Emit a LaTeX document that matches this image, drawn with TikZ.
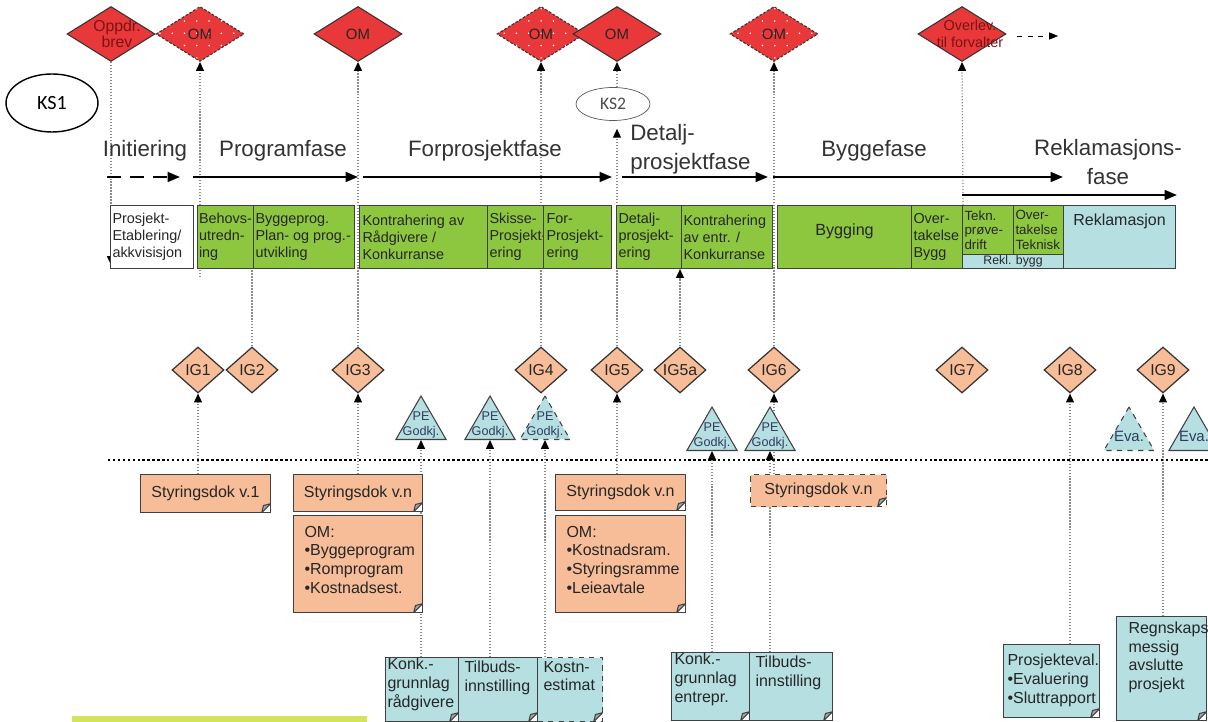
\documentclass[tikz,border=0pt]{standalone}
\usepackage{fontspec}
\setmainfont{Liberation Sans}
\newfontfamily\ksfont{Carlito}
\usetikzlibrary{shapes.geometric,arrows.meta,positioning,backgrounds,patterns}
\definecolor{pmRed}{HTML}{E8383A}
\definecolor{pmDark}{HTML}{7A1414}
\definecolor{pmSalmon}{HTML}{F6BD98}
\definecolor{pmGreen}{HTML}{8DC63F}
\definecolor{pmBlue}{HTML}{B6DFE2}
\definecolor{pmLime}{HTML}{D3E35A}
\definecolor{pmInk}{HTML}{2F3D5C}
\newlength\pxu
\setlength\pxu{0.02cm}
\newcommand{\boxfont}{\fontsize{8.2}{9.6}\selectfont}
\newcommand{\tinyboxfont}{\fontsize{7.6}{8.4}\selectfont}
\newcommand{\docfont}{\fontsize{9.1}{10.6}\selectfont}
\newcommand{\phasefont}{\fontsize{12.7}{16.4}\selectfont}
\newcommand{\bx}[5][t]{\parbox[c][#3\pxu][#1]{#2\pxu}{\leftskip=#4\pxu\rightskip=0pt plus 1fil\parindent=0pt\hyphenpenalty=10000\exhyphenpenalty=10000\hbadness=10000\hfuzz=50pt\relax #5}}
\pgfdeclarepatternformonly{pmdots}{\pgfqpoint{-1pt}{-1pt}}{\pgfqpoint{1pt}{1pt}}{\pgfqpoint{7pt}{7pt}}{\pgfpathcircle{\pgfpointorigin}{0.5pt}\pgfusepath{fill}}
\tikzset{
  ms/.style={shape=diamond, draw=black!80, fill=pmRed, minimum width=1.76cm, minimum height=1.1cm, inner sep=0pt, line width=0.6pt, font=\fontsize{8.5}{9}\selectfont, text=black!85},
  msD/.style={ms, dash pattern=on 1.5pt off 1pt, postaction={pattern=pmdots, pattern color=white}},
  msT/.style={align=center, font=\fontsize{9}{9.5}\selectfont, text=pmDark, inner sep=0pt},
  ig/.style={shape=diamond, draw=black!80, fill=pmSalmon, minimum width=1.04cm, minimum height=0.92cm, inner sep=0pt, line width=0.7pt, font=\fontsize{9}{10}\selectfont, text=black!85},
  pe/.style={regular polygon, regular polygon sides=3, minimum size=1.16cm, inner sep=0pt, draw=black!75, fill=pmBlue, line width=0.6pt},
  peD/.style={pe, dashed},
  peT/.style={align=center, font=\fontsize{7.2}{8.5}\selectfont, text=pmInk, inner sep=0pt},
  ks/.style={ellipse, draw=black, line width=0.8pt, minimum width=1.84cm, minimum height=1.16cm, inner sep=0pt, font=\ksfont\fontsize{11.5}{12}\selectfont},
  ksS/.style={ellipse, draw=black!65, fill=white, minimum width=1.48cm, minimum height=0.66cm, inner sep=0pt, font=\ksfont\fontsize{10}{11}\selectfont, text=black!70},
  phase/.style={font=\phasefont, text=black!80, inner sep=0pt},
  arr/.style={-{Triangle[length=7pt,width=5.5pt]}, line width=1.3pt, draw=black},
  arrD/.style={arr, dash pattern=on 8pt off 5pt},
  arrT/.style={-{Triangle[length=5pt,width=4pt]}, thin, dashed, draw=black},
  sep/.style={draw=black, line width=1.4pt, dash pattern=on 1.4pt off 1.4pt},
  guide/.style={draw=black!45, densely dotted, line width=0.7pt},
  guideA/.style={guide, -{Triangle[length=5pt,width=4.5pt,color=black]}},
  box/.style={draw=black!75, line width=0.6pt, inner sep=0pt, anchor=north west, font=\boxfont, text=black!85},
  boxW/.style={box, fill=white},
  boxG/.style={box, fill=pmGreen},
  boxB/.style={box, fill=pmBlue},
  doc/.style={box, fill=pmSalmon, font=\docfont, path picture={
    \fill[white] ([xshift=-5pt]path picture bounding box.south east) -- (path picture bounding box.south east) -- ([yshift=5pt]path picture bounding box.south east) -- cycle;
    \filldraw[solid, draw=black!75, fill=black!35] ([xshift=-5pt]path picture bounding box.south east) -- ([yshift=5pt]path picture bounding box.south east) -- ([xshift=-4pt,yshift=4pt]path picture bounding box.south east) -- cycle;}},
  docB/.style={doc, fill=pmBlue},
  docD/.style={doc, dashed},
  docBD/.style={docB, dashed},
}
\begin{document}
\begin{tikzpicture}[x=0.02cm, y=-0.02cm]
\useasboundingbox (0,0) rectangle (1208,722);

\node[ms, label={[msT, xshift=6\pxu]center:{Oppdr.\\brev}}] (opp) at (111,34) {};
\node[msD] (om1) at (200,34) {OM};
\node[ms] (om2) at (358,34) {OM};
\node[msD] (om3) at (541,34) {OM};
\node[ms] (om4) at (617,34) {OM};
\node[msD] (om5) at (774,34) {OM};
\node[ms, label={[msT, font=\fontsize{8.2}{9.8}\selectfont, xshift=8\pxu]center:{Overlev.\\til forvalter}}] (ovl) at (962,34) {};
\coordinate (ovl0) at (1017,36);
\coordinate (ovl1) at (1058,36);
\draw[arrT] (ovl0) -- (ovl1);

\node[ks] (ks1) at (52,103) {KS1};
\node[ksS] (ks2) at (613,104) {KS2};

\node[phase, anchor=base] (ph1) at (145,157) {Initiering};
\node[phase, anchor=base] (ph2) at (283,157) {Programfase};
\node[phase, anchor=base] (ph3) at (485,157) {Forprosjektfase};
\node[phase, anchor=north west, align=left] (ph4) at (630,124) {Detalj-\\prosjektfase};
\node[phase, anchor=base] (ph5) at (874,157) {Byggefase};
\node[phase, anchor=north, align=center] (ph6) at (1108,139) {Reklamasjons-\\fase};

\coordinate (a0) at (107,177);
\coordinate (a1) at (180,177);
\coordinate (a2) at (193,177);
\coordinate (a3) at (358,177);
\coordinate (a4) at (363,177);
\coordinate (a5) at (612,177);
\coordinate (a6) at (622,177);
\coordinate (a7) at (768,177);
\coordinate (a8) at (773,177);
\coordinate (a9) at (1063,177);
\coordinate (a10) at (962,195);
\coordinate (a11) at (1177,195);
\draw[arrD] (a0) -- (a1);
\draw[arr] (a2) -- (a3);
\draw[arr] (a4) -- (a5);
\draw[arr] (a6) -- (a7);
\draw[arr] (a8) -- (a9);
\draw[arr] (a10) -- (a11);

\node[boxW] (b0) at (110,205) {\bx[c]{83}{63}{2}{Prosjekt-\\Etablering/\\akkvisisjon}};
\node[boxG] (b1) at (197,205) {\bx[c]{56}{63}{1.5}{Behovs-\\utredn-\\ing}};
\node[boxG] (b2) at (253,205) {\bx[c]{101}{63}{2}{Byggeprog.\\Plan- og prog.-\\utvikling}};
\node[boxG] (b3) at (359,205) {\bx[c]{128}{63}{3}{Kontrahering av\\Rådgivere /\\Konkurranse}};
\node[boxG] (b4) at (487,205) {\bx[c]{56}{63}{2}{Skisse-\\Prosjekt-\\ering}};
\node[boxG] (b5) at (543,205) {\bx[c]{68}{63}{3}{For-\\Prosjekt-\\ering}};
\node[boxG] (b6) at (616,205) {\bx[c]{65}{63}{2}{Detalj-\\prosjekt-\\ering}};
\node[boxG] (b7) at (681,205) {\bx[c]{91}{63}{2}{Kontrahering\\av entr. /\\Konkurranse}};
\node[boxG] (b9) at (777,205) {\bx[c]{134}{63}{0}{\fontsize{9.2}{11}\selectfont\centering Bygging\par\vspace{6pt}}};
\node[boxG] (b10) at (911,205) {\bx[c]{51}{63}{2}{Over-\\takelse\\Bygg}};
\node[boxG, font=\tinyboxfont] (b11) at (962,205) {\bx[c]{51}{49}{2}{Tekn.\\prøve-\\drift}};
\node[boxG, font=\tinyboxfont] (b12) at (1013,205) {\bx[c]{50}{49}{2}{Over-\\takelse\\Teknisk}};
\node[boxB, font=\fontsize{7}{8}\selectfont] (b13) at (962,254) {\bx[c]{101}{14}{0}{\centering Rekl. bygg}};
\node[boxB] (b14) at (1063,205) {\bx{112}{63}{0}{\fontsize{9.1}{11}\selectfont\centering\vspace*{4.5pt}Reklamasjon}};

\node[ig] (ig1) at (198,370) {IG1};
\node[ig] (ig2) at (252,370) {IG2};
\node[ig] (ig3) at (358,370) {IG3};
\node[ig] (ig4) at (541,370) {IG4};
\node[ig] (ig5) at (617,370) {IG5};
\node[ig] (ig5a) at (680,370) {IG5a};
\node[ig] (ig6) at (774,370) {IG6};
\node[ig] (ig7) at (962,370) {IG7};
\node[ig] (ig8) at (1070,370) {IG8};
\node[ig] (ig9) at (1163,370) {IG9};

\node[pe, label={[peT]center:{PE\\Godkj.}}] (pe1) at (421,425) {};
\node[pe, label={[peT]center:{PE\\Godkj.}}] (pe2) at (490,425) {};
\node[peD, label={[peT]center:{PE\\Godkj.}}] (pe3) at (545,425) {};
\node[pe, label={[peT]center:{PE\\Godkj.}}] (pe4) at (712,436) {};
\node[pe, label={[peT]center:{PE\\Godkj.}}] (pe5) at (770,436) {};
\node[peD, label={[peT, font=\fontsize{8.5}{9}\selectfont]center:{Eva.}}] (eva1) at (1129,436) {};
\node[pe, label={[peT, font=\fontsize{8.5}{9}\selectfont]center:{Eva.}}] (eva2) at (1194,436) {};

\coordinate (sep0) at (108,460);
\coordinate (sep1) at (1208,460);
\draw[sep] (sep0) -- (sep1);

\node[doc] (sd1) at (140,474) {\bx[c]{130}{38}{0}{\centering Styringsdok v.1}};
\node[doc] (sd2) at (293,474) {\bx[c]{129}{37}{0}{\centering Styringsdok v.n}};
\node[doc] (omd1) at (293,515) {\bx{129}{97}{11}{\vspace*{6pt}OM:\\•Byggeprogram\\•Romprogram\\•Kostnadsest.}};
\node[docB] (konk1) at (385,657) {\bx{73}{64}{2}{\vspace*{0.5pt}Konk.-\\grunnlag\\rådgivere}};
\node[docB] (tilb1) at (458,657) {\bx{79}{64}{6}{\vspace*{2pt}Tilbuds-\\innstilling}};
\node[docBD] (kostn) at (537,657) {\bx{65}{64}{6}{\vspace*{2pt}Kostn-\\estimat}};
\node[doc] (sd3) at (555,474) {\bx[c]{130}{36}{0}{\centering Styringsdok v.n}};
\node[doc] (omd2) at (555,515) {\bx{130}{97}{11}{\vspace*{6pt}OM:\\•Kostnadsram.\\•Styringsramme\\•Leieavtale}};
\node[docB] (konk2) at (671,652) {\bx{78}{68}{3}{\vspace*{0.5pt}Konk.-\\grunnlag\\entrepr.}};
\node[docB] (tilb2) at (749,652) {\bx{83}{68}{6}{\vspace*{2pt}Tilbuds-\\innstilling}};
\node[docD] (sd4) at (750,474) {\bx[c]{136}{32}{0}{\centering Styringsdok v.n}};
\node[docB] (prosj) at (1003,644) {\bx{96}{73}{4}{\vspace*{5.5pt}Prosjekteval.\\•Evaluering\\•Sluttrapport}};
\node[docB] (regn) at (1116,616) {\bx{90}{104}{12}{\vspace*{3pt}Regnskaps-\\messig\\avslutte\\prosjekt}};

\fill[pmLime] (72,716) rectangle (367,724);

\begin{scope}[on background layer]
\coordinate (oppE) at (111,265);
\coordinate (om1E) at (200,277);
\draw[guideA] (opp.south) -- (oppE);
\draw[guideA] (om1E) -- (om1.south);
\draw[guide] (ig2.north) -- (ig2.north |- b1.south);
\draw[guideA] (ig3.north) -- (om2.south);
\draw[guideA] (ig4.north) -- (om3.south);
\draw[guideA, shorten >=8\pxu] (ig5.north) -- (ig5.north |- ks2.south);
\draw[guideA] (ig5.north |- ks2.north) -- (om4.south);
\draw[guideA] (ig6.north) -- (om5.south);
\draw[guideA] (b10.north east) -- (ovl.south);
\draw[guideA] (ig5a.north) -- (ig5a.north |- b7.south);
\draw[guideA] (ig1.south |- sd1.north) -- (ig1.south);
\draw[guideA] (ig3.south |- sd2.north) -- (ig3.south);
\draw[guideA] (konk1.north -| pe1.south) -- (pe1.south);
\draw[guideA] (tilb1.north -| pe2.south) -- (pe2.south);
\draw[guideA] (kostn.north -| pe3.south) -- (pe3.south);
\draw[guideA] (sd3.north -| ig5.south) -- (ig5.south);
\draw[guideA] (konk2.north -| pe4.south) -- (pe4.south);
\draw[guideA] (tilb2.north -| pe5.south) -- (pe5.south);
\draw[guideA] (sd4.north -| ig6.south) -- (ig6.south);
\draw[guideA] (prosj.north -| ig8.south) -- (ig8.south);
\draw[guideA] (regn.north -| ig9.south) -- (ig9.south);
\end{scope}
\end{tikzpicture}
\end{document}
